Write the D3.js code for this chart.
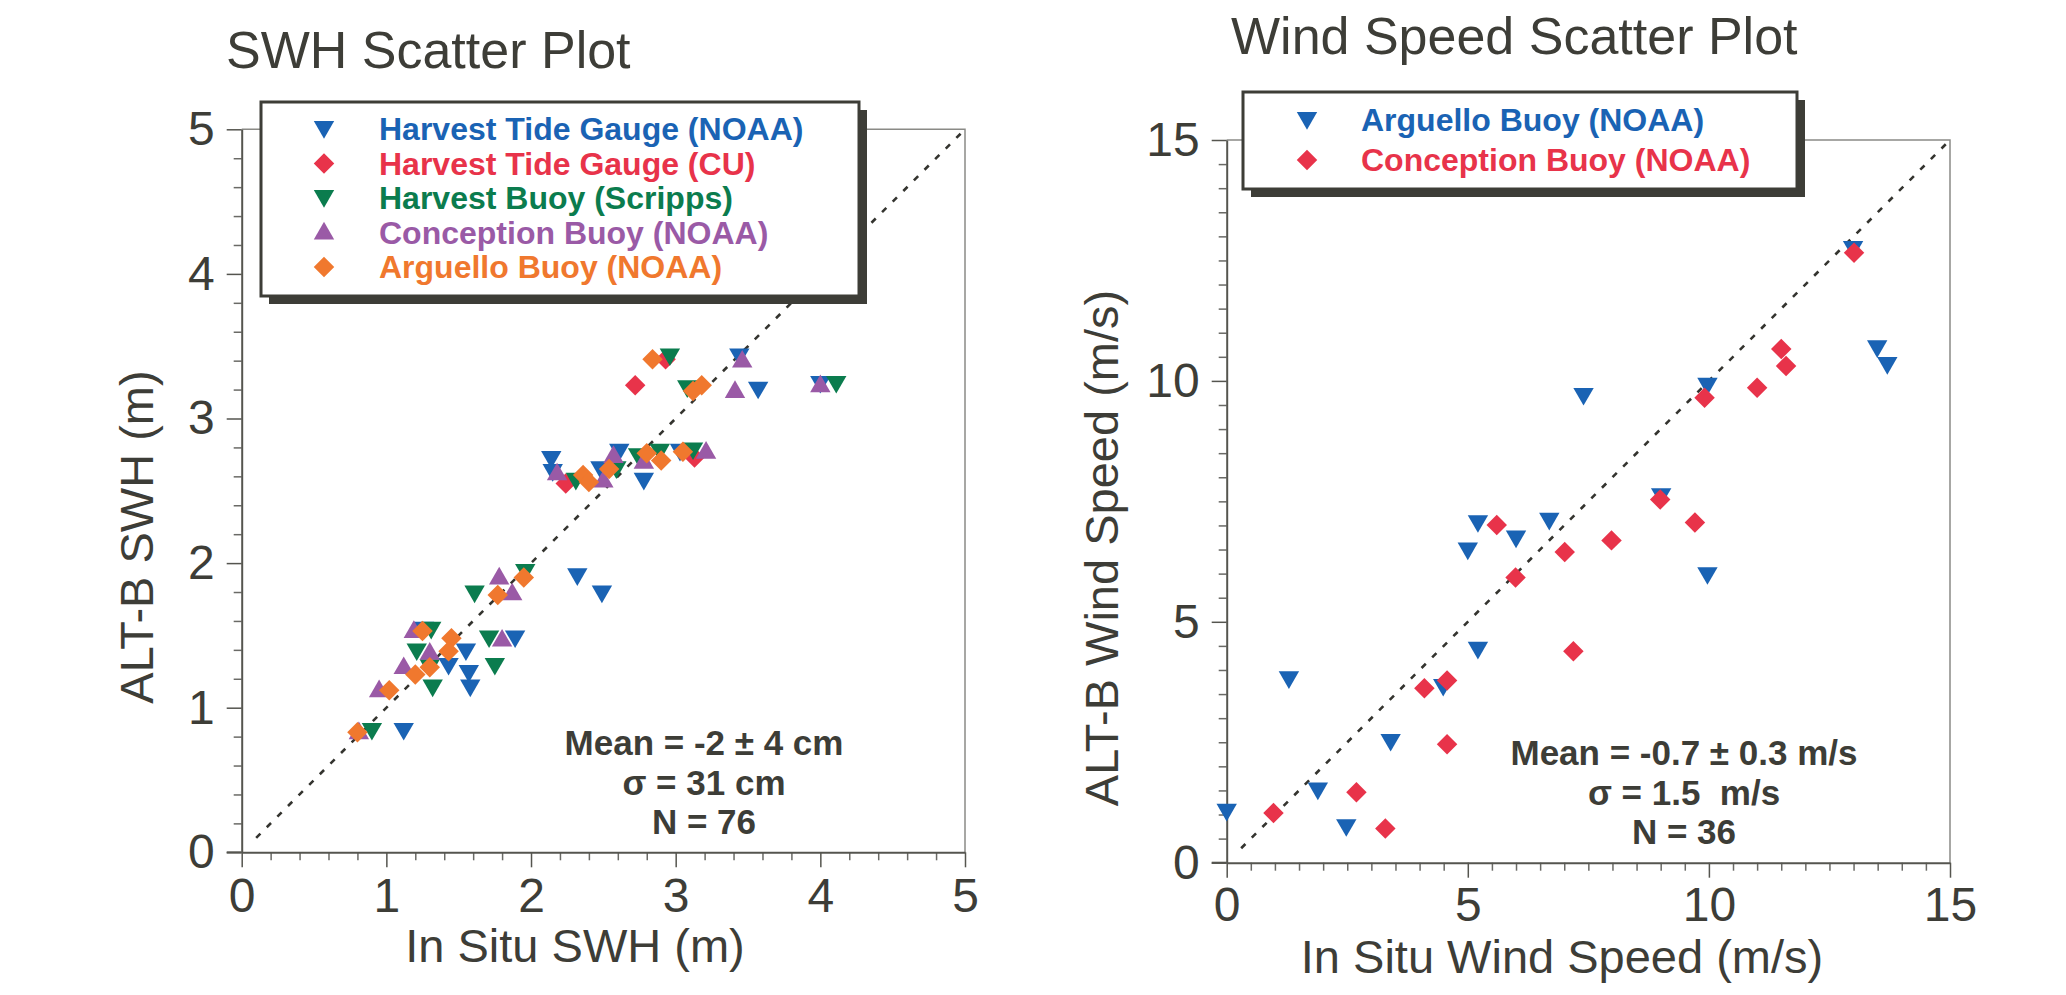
<!DOCTYPE html>
<html>
<head>
<meta charset="utf-8">
<script src="https://cdn.jsdelivr.net/npm/d3@7"></script>
<style>
  body { margin: 0; background: #fff; }
  svg { display: block; }
  text { font-family: "Liberation Sans Narrow", "Arial Narrow", "Liberation Sans", sans-serif; fill: #3d3d37; }
  .bold { font-weight: bold; }
  .stats { font-family: "Liberation Sans", Arial, sans-serif; font-weight: bold; white-space: pre; }
</style>
</head>
<body>
<svg width="2066" height="995"></svg>
<script>
// SWH panel, values [in situ, altimeter] in metres
const swhTideNoaa = [[3.44,3.43],[3.57,3.20],[4.0,3.24],[2.14,2.72],[2.15,2.63],[2.61,2.77],[2.48,2.65],[2.78,2.57],
  [3.03,2.77],[2.32,1.91],[2.49,1.79],[1.89,1.48],[1.55,1.39],[1.43,1.29],[1.57,1.24],[1.58,1.14],[1.12,0.84],[1.26,1.54]]
const swhTideCu = [[2.72,3.23],[2.93,3.41],[2.24,2.55],[3.13,2.73]]
const swhScripps = [[2.96,3.43],[3.08,3.21],[4.11,3.24],[2.31,2.57],[2.59,2.65],[2.74,2.74],[2.89,2.77],[3.12,2.78],
  [1.96,1.94],[1.61,1.79],[1.71,1.48],[1.75,1.29],[1.31,1.54],[1.21,1.39],[1.32,1.14],[0.90,0.84],[1.30,1.28]]
const swhConception = [[3.46,3.40],[3.41,3.19],[4.00,3.23],[3.21,2.77],[2.78,2.70],[2.57,2.74],[2.50,2.57],[2.18,2.62],
  [1.78,1.90],[1.87,1.79],[1.80,1.47],[1.30,1.38],[1.12,1.28],[1.19,1.53],[0.95,1.12],[0.81,0.83]]
const swhArguello = [[2.84,3.41],[3.12,3.19],[3.18,3.23],[2.80,2.76],[2.90,2.71],[3.05,2.77],[2.54,2.65],[2.36,2.61],
  [2.40,2.56],[1.95,1.90],[1.77,1.78],[1.45,1.48],[1.43,1.39],[1.25,1.53],[1.20,1.23],[1.30,1.28],[1.02,1.12],[0.80,0.83]]

// wind panel, [in situ, altimeter] in m/s
const windArguello = [[0,1.06],[1.29,3.81],[1.89,1.50],[2.48,0.74],[3.40,2.51],[4.49,3.65],[5.21,4.42],[5.0,6.48],
  [5.21,7.05],[6.0,6.73],[6.69,7.10],[7.40,9.69],[9.01,7.61],[9.97,9.90],[9.97,5.97],[12.99,12.74],[13.49,10.68],[13.70,10.33]]
const windConception = [[0.97,1.03],[2.69,1.46],[3.29,0.71],[4.10,3.62],[4.57,3.78],[4.57,2.46],[5.60,7.01],[5.99,5.92],
  [7.01,6.45],[7.19,4.39],[7.98,6.69],[8.99,7.54],[9.71,7.06],[9.91,9.65],[11.0,9.86],[11.50,10.66],[11.60,10.31],[13.01,12.66]]

const swhTicks = [0, 1, 2, 3, 4, 5]
const windTicks = [0, 5, 10, 15]
const swhStats = ["Mean = -2 \u00b1 4 cm", "\u03c3 = 31 cm", "N = 76"]
const windStats = ["Mean = -0.7 \u00b1 0.3 m/s", "\u03c3 = 1.5  m/s", "N = 36"]

const svg = d3.select("svg")

const triDown = d3.symbol().type(d3.symbolTriangle).size(180)
const triUp = d3.symbol().type(d3.symbolTriangle).size(180)
const diamond = d3.symbol().type(d3.symbolSquare).size(210)

const markers = {
    down: { path: triDown(), rot: 180, dy: -2 },
    up: { path: triUp(), rot: 0, dy: 1 },
    diamond: { path: diamond(), rot: 45, dy: 0 }
}

function drawMarker(g, kind, color, cx, cy) {
    const m = markers[kind]
    g.append("path")
        .attr("d", m.path)
        .attr("fill", color)
        .attr("transform", `translate(${cx},${cy + m.dy}) rotate(${m.rot})`)
}

function panel(cfg) {
    const x = d3.scaleLinear().domain(cfg.domain).range([cfg.left, cfg.right])
    const y = d3.scaleLinear().domain(cfg.domain).range([cfg.bottom, cfg.top])
    const g = svg.append("g")

    const minors = d3.range(cfg.domain[0], cfg.domain[1] + 1e-6, cfg.minorStep)
        .filter(v => !cfg.ticks.some(t => Math.abs(t - v) < 1e-6))

    // frame: top and right sides
    g.append("path")
        .attr("d", `M${cfg.left},${cfg.top}H${cfg.right}V${cfg.bottom}`)
        .attr("fill", "none").attr("stroke", "#8a8a86").attr("stroke-width", 1.5)

    // minor ticks
    g.append("g").attr("transform", `translate(0,${cfg.bottom})`)
        .call(d3.axisBottom(x).tickValues(minors).tickSize(8).tickFormat("").tickSizeOuter(0))
        .call(a => a.select(".domain").remove())
        .selectAll("line").attr("stroke", "#6a6a66").attr("stroke-width", 1.5)
    g.append("g").attr("transform", `translate(${cfg.left},0)`)
        .call(d3.axisLeft(y).tickValues(minors).tickSize(8).tickFormat("").tickSizeOuter(0))
        .call(a => a.select(".domain").remove())
        .selectAll("line").attr("stroke", "#6a6a66").attr("stroke-width", 1.5)

    // major ticks and labels
    const fmt = d3.format("d")
    const xa = g.append("g").attr("transform", `translate(0,${cfg.bottom})`)
        .call(d3.axisBottom(x).tickValues(cfg.ticks).tickFormat(fmt).tickSize(15).tickPadding(cfg.xPad).tickSizeOuter(0))
    const ya = g.append("g").attr("transform", `translate(${cfg.left},0)`)
        .call(d3.axisLeft(y).tickValues(cfg.ticks).tickFormat(fmt).tickSize(15).tickPadding(12).tickSizeOuter(0))
    ;[xa, ya].forEach(a => {
        a.select(".domain").attr("stroke", "#55554f").attr("stroke-width", 2)
        a.selectAll("line").attr("stroke", "#55554f").attr("stroke-width", 1.5)
        a.selectAll("text").style("font-size", "48px").attr("fill", "#3d3d37")
            .style("font-family", '"Liberation Sans Narrow", "Arial Narrow", "Liberation Sans", sans-serif')
    })
    // the x-axis line runs under the y-axis zero tick
    g.append("line")
        .attr("x1", cfg.left - 15).attr("x2", cfg.left)
        .attr("y1", cfg.bottom).attr("y2", cfg.bottom)
        .attr("stroke", "#55554f").attr("stroke-width", 2)

    // 1:1 line
    g.append("line")
        .attr("x1", x(cfg.diagStart)).attr("y1", y(cfg.diagStart))
        .attr("x2", x(cfg.domain[1])).attr("y2", y(cfg.domain[1]))
        .attr("stroke", "#34342f").attr("stroke-width", 2.6)
        .attr("stroke-dasharray", "6,9")

    // points
    const pts = g.append("g")
    cfg.series.forEach(s => {
        s.data.forEach(d => drawMarker(pts, s.kind, s.color, x(d[0]), y(d[1])))
    })

    // legend box with drop shadow
    const lb = cfg.legend
    g.append("rect")
        .attr("x", lb.x + 8).attr("y", lb.y + 8).attr("width", lb.w).attr("height", lb.h)
        .attr("fill", "#3d3d37")
    g.append("rect")
        .attr("x", lb.x).attr("y", lb.y).attr("width", lb.w).attr("height", lb.h)
        .attr("fill", "#fff").attr("stroke", "#3d3d37").attr("stroke-width", 3)
    cfg.series.forEach((s, i) => {
        const base = lb.firstBase + i * lb.step
        drawMarker(g, s.kind, s.color, lb.symX, base - 11)
        g.append("text")
            .attr("class", "bold")
            .attr("x", lb.textX).attr("y", base)
            .style("font-size", "32px")
            .style("fill", s.color)
            .text(s.name)
    })

    // stats
    cfg.stats.forEach((t, i) => {
        g.append("text")
            .attr("class", "stats")
            .attr("x", cfg.statsX).attr("y", cfg.statsBase[i])
            .attr("text-anchor", "middle")
            .style("font-size", "35px")
            .text(t)
    })

    // titles
    g.append("text")
        .attr("x", cfg.titleX).attr("y", cfg.titleY)
        .style("font-size", "52px")
        .text(cfg.title)
    g.append("text")
        .attr("x", cfg.xLabelX).attr("y", cfg.xLabelY)
        .attr("text-anchor", "middle")
        .style("font-size", "47px")
        .text(cfg.xLabel)
    g.append("text")
        .attr("transform", `translate(${cfg.yLabelX},${cfg.yLabelY}) rotate(-90)`)
        .attr("text-anchor", "middle")
        .style("font-size", "47px")
        .text(cfg.yLabel)
}

panel({
    domain: [0, 5], ticks: swhTicks, minorStep: 0.2, diagStart: 0.1,
    left: 241.7, right: 965, top: 129.3, bottom: 852.3, xPad: 11,
    series: [
        { name: "Harvest Tide Gauge (NOAA)", kind: "down", color: "#1a63b4", data: swhTideNoaa },
        { name: "Harvest Tide Gauge (CU)", kind: "diamond", color: "#e8334a", data: swhTideCu },
        { name: "Harvest Buoy (Scripps)", kind: "down", color: "#0b7c4e", data: swhScripps },
        { name: "Conception Buoy (NOAA)", kind: "up", color: "#9a5aa6", data: swhConception },
        { name: "Arguello Buoy (NOAA)", kind: "diamond", color: "#f0782e", data: swhArguello }
    ],
    legend: { x: 261, y: 102, w: 598, h: 194, symX: 324, textX: 379, firstBase: 140, step: 34.5 },
    stats: swhStats, statsX: 704, statsBase: [755, 794.5, 834],
    title: "SWH Scatter Plot", titleX: 226, titleY: 68,
    xLabel: "In Situ SWH (m)", xLabelX: 575, xLabelY: 962,
    yLabel: "ALT-B SWH (m)", yLabelX: 153, yLabelY: 537
})

panel({
    domain: [0, 15], ticks: windTicks, minorStep: 0.5, diagStart: 0.3,
    left: 1226.7, right: 1950, top: 140, bottom: 862.7, xPad: 9,
    series: [
        { name: "Arguello Buoy (NOAA)", kind: "down", color: "#1a63b4", data: windArguello },
        { name: "Conception Buoy (NOAA)", kind: "diamond", color: "#e8334a", data: windConception }
    ],
    legend: { x: 1243, y: 92, w: 554, h: 97, symX: 1307, textX: 1361, firstBase: 131, step: 40 },
    stats: windStats, statsX: 1684, statsBase: [765, 804.5, 844],
    title: "Wind Speed Scatter Plot", titleX: 1231, titleY: 54,
    xLabel: "In Situ Wind Speed (m/s)", xLabelX: 1562, xLabelY: 973,
    yLabel: "ALT-B Wind Speed (m/s)", yLabelX: 1118, yLabelY: 548
})
</script>
</body>
</html>
